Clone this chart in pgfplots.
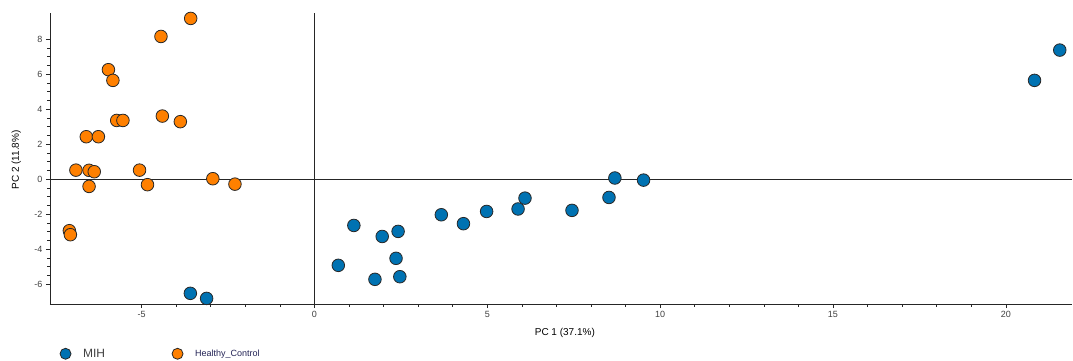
\documentclass[border=0pt]{standalone}
\usepackage{pgfplots}
\pgfplotsset{compat=1.18}
\usepackage{fontspec}
\setmainfont{Liberation Sans}
\definecolor{mihblue}{RGB}{0,114,178}
\definecolor{hcorange}{RGB}{255,128,0}
\definecolor{edgec}{RGB}{40,40,40}
\definecolor{navytext}{RGB}{35,35,85}
\begin{document}
\begin{tikzpicture}
\useasboundingbox (-50pt,-56pt) rectangle (1023pt,304pt);
\begin{axis}[at={(0pt,0pt)}, anchor=south west, scale only axis,
  width=1021.5pt, height=291pt,
  xmin=-7.65, xmax=21.9, ymin=-7.14, ymax=9.49,
  axis x line*=bottom, axis y line*=left, axis line style={-, black!85},
  xtick={-5,0,5,10,15,20}, ytick={-6,-4,-2,0,2,4,6,8},
  minor x tick num=4, minor y tick num=3,
  tick align=outside, major tick length=4pt, minor tick length=2.5pt,
  tick style={black!85, line width=0.6pt},
  ticklabel style={font=\fontsize{9}{10}\selectfont, text=black!75},
  /pgf/number format/assume math mode=true,
  xlabel={PC 1 (37.1\%)}, ylabel={PC 2 (11.8\%)},
  label style={font=\fontsize{9}{10}\selectfont, text=black!80},
  every axis x label/.style={at={(axis description cs:0.504,-0.0997)}, anchor=center},
  every axis y label/.style={at={(axis description cs:-0.033,0.495)}, rotate=90, anchor=center},
  clip=false,
  legend image code/.code={\draw[#1, mark size=5.5pt] plot coordinates {(0pt,0pt)};},
  legend style={at={(axis description cs:0.0067,-0.171)}, anchor=west, draw=none, fill=none,
    legend columns=2,
    /tikz/every odd column/.append style={column sep=10pt},
    /tikz/every even column/.append style={column sep=65pt},
    font=\fontsize{9}{10}\selectfont},
]
\addplot[black!85, line width=0.6pt, forget plot] coordinates {(-7.65,0) (21.9,0)};
\addplot[black!85, line width=0.6pt, forget plot] coordinates {(0,-7.14) (0,9.49)};
\addplot[only marks, mark=*, mark size=6.3pt, mark options={fill=mihblue, draw=edgec, line width=0.8pt}] coordinates {
(-3.59,-6.53) (-3.12,-6.82)
(8.69,0.06) (9.52,-0.06) (6.09,-1.09) (5.89,-1.71) (4.98,-1.85) (7.45,-1.79) (8.52,-1.05)
(3.67,-2.04) (4.31,-2.55) (1.14,-2.65) (1.96,-3.28) (2.42,-2.99) (2.36,-4.53) (0.69,-4.93)
(1.75,-5.73) (2.47,-5.58) (21.56,7.37) (20.83,5.64)
};
\addlegendentry{\fontsize{12}{13}\selectfont\color{black!75}MIH}
\addplot[only marks, mark=*, mark size=6.3pt, mark options={fill=hcorange, draw=edgec, line width=0.8pt}] coordinates {
(-3.58,9.18) (-4.44,8.15) (-5.96,6.25) (-5.83,5.64) (-5.72,3.35) (-5.54,3.35) (-4.40,3.60)
(-3.88,3.28) (-6.60,2.42) (-6.25,2.42) (-6.90,0.51) (-6.52,0.50) (-6.37,0.42) (-5.06,0.51)
(-2.94,0.02) (-6.52,-0.42) (-4.83,-0.32) (-2.30,-0.29) (-7.09,-2.95) (-7.06,-3.18)
};
\addlegendentry{\color{navytext}Healthy\_Control}
\end{axis}
\end{tikzpicture}
\end{document}
